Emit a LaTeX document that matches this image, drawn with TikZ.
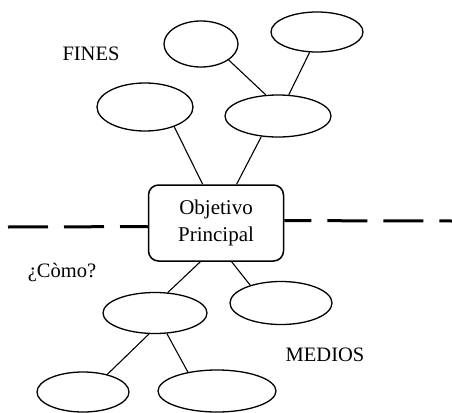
\documentclass[tikz,border=0pt]{standalone}
\usepackage{fontspec}
\setmainfont{Liberation Serif}
\usetikzlibrary{shapes.geometric}
\tikzset{
  bolla/.style={draw, ellipse, line width=1.3pt, inner sep=0pt},
  obiettivo/.style={draw, rounded corners=10pt, line width=1.5pt, minimum width=135pt, minimum height=76pt, align=center, font=\fontsize{21}{27}\selectfont},
  ramo/.style={line width=1.1pt},
  confine/.style={line width=3pt, dash pattern=on 40pt off 16pt},
  scritta/.style={font=\fontsize{20.5}{24}\selectfont}
}
\begin{document}
\begin{tikzpicture}[x=1pt, y=-1pt]
    \useasboundingbox (0,0) rectangle (452,412);
    \node[obiettivo] (O) at (216,223) {Objetivo\\Principal};
    \node[bolla, minimum width=74pt, minimum height=46pt] (F1) at (201,44) {};
    \node[bolla, minimum width=92pt, minimum height=40pt] (F2) at (317,32) {};
    \node[bolla, minimum width=96pt, minimum height=48pt] (F3) at (145,107) {};
    \node[bolla, minimum width=106pt, minimum height=42pt] (F4) at (278,116) {};
    \node[bolla, minimum width=104pt, minimum height=41pt] (M1) at (155,313) {};
    \node[bolla, minimum width=102pt, minimum height=43pt] (M2) at (281,303) {};
    \node[bolla, minimum width=92pt, minimum height=40pt] (M3) at (83,392) {};
    \node[bolla, minimum width=118pt, minimum height=42pt] (M4) at (217,391) {};
    \node[scritta] (fini) at (91,54) {FINES};
    \node[scritta] (come) at (62,272) {¿Còmo?};
    \node[scritta] (mezzi) at (325,355) {MEDIOS};
    \coordinate (sx) at (8,227);
    \coordinate (dx) at (452,221);
    % fini
    \draw[ramo] (F1.-30) -- (F4.120);
    \draw[ramo] (F2.-110) -- (F4.63);
    \draw[ramo] (F3.-34) -- (O.109);
    \draw[ramo] (F4.-129) -- (O.62);
    % medios
    \draw[ramo] (O.-112) -- (M1.58);
    \draw[ramo] (O.-68) -- (M2.150);
    \draw[ramo] (M1.-106) -- (M3.36);
    \draw[ramo] (M1.-60) -- (M4.147);
    \draw[confine] (sx) -- (O.183);
    \draw[confine, dash phase=13pt] (O.2) -- (dx);
\end{tikzpicture}
\end{document}
